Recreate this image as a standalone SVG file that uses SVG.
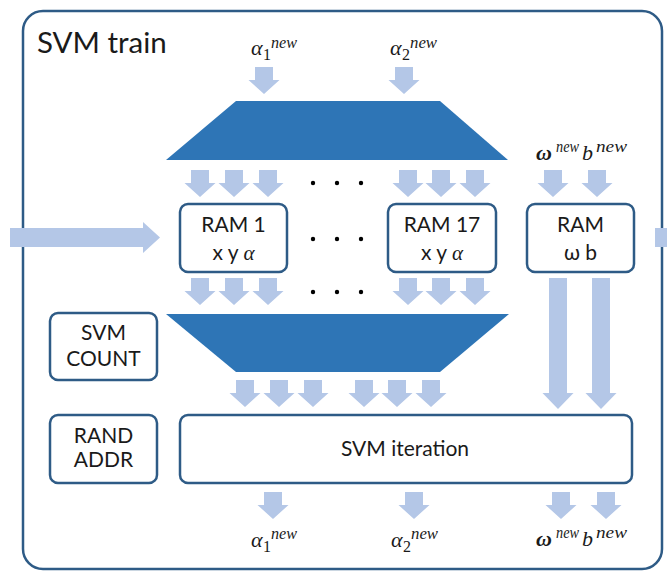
<svg xmlns="http://www.w3.org/2000/svg" xmlns:xlink="http://www.w3.org/1999/xlink" width="667" height="571" viewBox="0 0 667 571">
  <style>
    .frame { fill: #ffffff; stroke: #2e5b86; stroke-width: 2.5; }
    .box { fill: #ffffff; stroke: #2e5b86; stroke-width: 2.5; }
    .mux { fill: #2e75b6; }
    .flow { fill: #b4c7e7; }
    .dot { fill: #000000; }
    .lbl { font-family: Lato, "Liberation Sans", sans-serif; font-size: 21px; fill: #1a1a1a; text-anchor: middle; }
    .math { font-family: "Liberation Serif", "DejaVu Serif", serif; font-style: italic; fill: #1a1a1a; }
    .sym { font-size: 22px; }
    .sub { font-size: 16px; font-style: normal; }
    .sup { font-size: 16px; }
  </style>
  <defs>
    <!-- short downward flow arrow, anchored at top centre -->
    <path id="dn" d="M-9,0 H9 V13 H15.5 L0,27 L-15.5,13 H-9 Z"/>
    <!-- long downward flow arrow (RAM w b to SVM iteration) -->
    <path id="dnLong" d="M-9,0 H9 V115 H15.5 L0,131 L-15.5,115 H-9 Z"/>
  </defs>

  <!-- outer block -->
  <g id="svm-train">
    <rect class="frame" x="23" y="11" width="639" height="558" rx="20"/>
    <text x="37" y="53" font-family="Lato, 'Liberation Sans', sans-serif" font-size="29.5" fill="#1a1a1a">SVM train</text>
  </g>

  <!-- connectors -->
  <g id="connectors" class="flow">
    <!-- external input into RAM 1 -->
    <path d="M10,228 H143 V222 L160,237.5 L143,253 V247 H10 Z"/>
    <!-- output leaving to the right -->
    <rect x="655" y="228" width="12" height="19"/>
    <!-- new alphas into top multiplexer -->
    <use xlink:href="#dn" x="264" y="67"/>
    <use xlink:href="#dn" x="404" y="67"/>
    <!-- top multiplexer to RAMs -->
    <use xlink:href="#dn" x="200" y="170"/>
    <use xlink:href="#dn" x="234" y="170"/>
    <use xlink:href="#dn" x="268" y="170"/>
    <use xlink:href="#dn" x="408" y="170"/>
    <use xlink:href="#dn" x="441" y="170"/>
    <use xlink:href="#dn" x="475" y="170"/>
    <use xlink:href="#dn" x="553" y="170"/>
    <use xlink:href="#dn" x="597" y="170"/>
    <!-- RAMs to bottom multiplexer -->
    <use xlink:href="#dn" x="200" y="278"/>
    <use xlink:href="#dn" x="234" y="278"/>
    <use xlink:href="#dn" x="268" y="278"/>
    <use xlink:href="#dn" x="408" y="278"/>
    <use xlink:href="#dn" x="441" y="278"/>
    <use xlink:href="#dn" x="475" y="278"/>
    <!-- RAM w b to SVM iteration -->
    <use xlink:href="#dnLong" x="558" y="278"/>
    <use xlink:href="#dnLong" x="601" y="278"/>
    <!-- bottom multiplexer to SVM iteration -->
    <use xlink:href="#dn" x="245" y="380"/>
    <use xlink:href="#dn" x="279" y="380"/>
    <use xlink:href="#dn" x="313" y="380"/>
    <use xlink:href="#dn" x="364" y="380"/>
    <use xlink:href="#dn" x="397" y="380"/>
    <use xlink:href="#dn" x="431" y="380"/>
    <!-- SVM iteration outputs -->
    <use xlink:href="#dn" x="273" y="492"/>
    <use xlink:href="#dn" x="414" y="492"/>
    <use xlink:href="#dn" x="561" y="492"/>
    <use xlink:href="#dn" x="606" y="492"/>
  </g>

  <!-- ellipsis rows between RAM 1 and RAM 17 -->
  <g id="ellipsis" class="dot">
    <circle cx="313" cy="183" r="2.2"/><circle cx="337" cy="183" r="2.2"/><circle cx="361" cy="183" r="2.2"/>
    <circle cx="313" cy="239" r="2.2"/><circle cx="337" cy="239" r="2.2"/><circle cx="361" cy="239" r="2.2"/>
    <circle cx="313" cy="292" r="2.2"/><circle cx="337" cy="292" r="2.2"/><circle cx="361" cy="292" r="2.2"/>
  </g>

  <g id="mux-top">
    <polygon class="mux" points="236,101 440,101 508,160 166,160"/>
  </g>
  <g id="mux-bottom">
    <polygon class="mux" points="166,314 509,314 440,372 236,372"/>
  </g>

  <g id="ram-1">
    <rect class="box" x="180" y="204" width="107" height="68" rx="8"/>
    <text class="lbl" x="233.5" y="232">RAM 1</text>
    <text class="lbl" x="233.5" y="260">x y <tspan class="math">α</tspan></text>
  </g>
  <g id="ram-17">
    <rect class="box" x="388" y="204" width="108" height="68" rx="8"/>
    <text class="lbl" x="442" y="232">RAM 17</text>
    <text class="lbl" x="442" y="260">x y <tspan class="math">α</tspan></text>
  </g>
  <g id="ram-wb">
    <rect class="box" x="527" y="204" width="107" height="68" rx="8"/>
    <text class="lbl" x="580.5" y="232">RAM</text>
    <text class="lbl" x="580.5" y="260">ω b</text>
  </g>
  <g id="svm-count">
    <rect class="box" x="50" y="313" width="107" height="67" rx="8"/>
    <text class="lbl" x="103.5" y="340">SVM</text>
    <text class="lbl" x="103.5" y="366">COUNT</text>
  </g>
  <g id="rand-addr">
    <rect class="box" x="50" y="415" width="107" height="68" rx="8"/>
    <text class="lbl" x="103.5" y="443">RAND</text>
    <text class="lbl" x="103.5" y="467">ADDR</text>
  </g>
  <g id="svm-iteration">
    <rect class="box" x="180" y="415" width="452" height="68" rx="8"/>
    <text class="lbl" x="405" y="456" font-size="21.5">SVM iteration</text>
  </g>

  <!-- signal labels: symbol with subscript and superscript -->
  <g id="labels" class="math">
    <text x="251" y="55"><tspan class="sym">α</tspan><tspan class="sub" x="263" y="60">1</tspan><tspan class="sup" x="271" y="48" textLength="26" lengthAdjust="spacingAndGlyphs">new</tspan></text>
    <text x="390" y="55"><tspan class="sym">α</tspan><tspan class="sub" x="402" y="60">2</tspan><tspan class="sup" x="410" y="48" textLength="27" lengthAdjust="spacingAndGlyphs">new</tspan></text>
    <text x="536" y="160"><tspan class="sym" font-weight="bold">ω</tspan><tspan class="sup" x="556" y="152" textLength="23" lengthAdjust="spacingAndGlyphs">new</tspan><tspan class="sym" x="582" y="160" font-size="23">b</tspan><tspan class="sup" x="596" y="152" textLength="31" lengthAdjust="spacingAndGlyphs">new</tspan></text>

    <text x="251" y="547"><tspan class="sym">α</tspan><tspan class="sub" x="263" y="552">1</tspan><tspan class="sup" x="271" y="539" textLength="26" lengthAdjust="spacingAndGlyphs">new</tspan></text>
    <text x="391" y="547"><tspan class="sym">α</tspan><tspan class="sub" x="403" y="552">2</tspan><tspan class="sup" x="411" y="539" textLength="27" lengthAdjust="spacingAndGlyphs">new</tspan></text>
    <text x="536" y="546"><tspan class="sym" font-weight="bold">ω</tspan><tspan class="sup" x="556" y="538" textLength="23" lengthAdjust="spacingAndGlyphs">new</tspan><tspan class="sym" x="582" y="546" font-size="23">b</tspan><tspan class="sup" x="596" y="538" textLength="31" lengthAdjust="spacingAndGlyphs">new</tspan></text>
  </g>
</svg>
